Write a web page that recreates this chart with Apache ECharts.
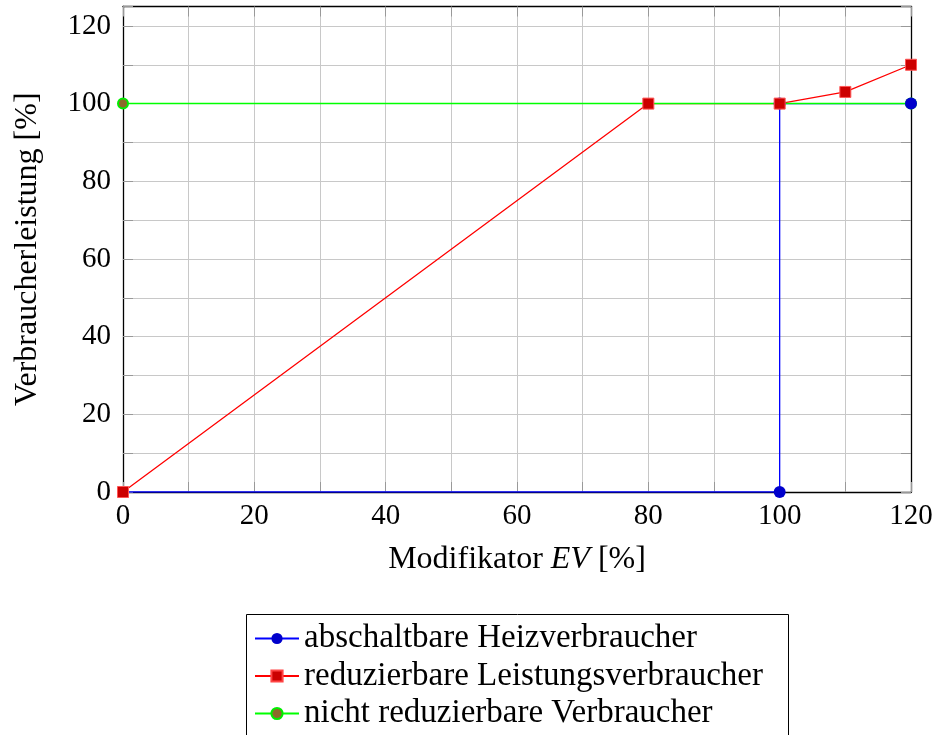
<!DOCTYPE html>
<html>
<head>
<meta charset="utf-8">
<script src="https://cdn.jsdelivr.net/npm/echarts@6/dist/echarts.min.js"></script>
<style>html,body{margin:0;padding:0;background:#fff}#c{width:936px;height:735px}</style>
</head>
<body>
<div id="c"></div>
<script>
var seriesNames = ['abschaltbare Heizverbraucher', 'reduzierbare Leistungsverbraucher', 'nicht reduzierbare Verbraucher'];
var blueX = [0, 100, 100, 120];
var blueY = [0, 0, 100, 100];
var redX = [0, 80, 100, 110, 120];
var redY = [0, 100, 100, 103, 110];
var greenX = [0, 120];
var greenY = [100, 100];
var xTicks = [0, 20, 40, 60, 80, 100, 120];
var yTicks = [0, 20, 40, 60, 80, 100, 120];

function pts(xs, ys) { return xs.map(function (x, i) { return [x, ys[i]]; }); }

var FONT = 'Liberation Serif';
var chart = echarts.init(document.getElementById('c'));
var tickStyle = { show: true, inside: true, length: 10, lineStyle: { color: '#999', width: 1 } };
var gridLine = { show: true, lineStyle: { color: '#c8c8c8', width: 1 } };
var labelStyle = { fontFamily: FONT, fontSize: 29, color: '#000' };

chart.setOption({
  animation: false,
  grid: { left: 123, right: 25, top: 6.5, bottom: 243, containLabel: false, outerBoundsMode: 'none' },
  xAxis: [{
    type: 'value', min: 0, max: 120, interval: 10,
    axisLine: { show: true, onZero: false, lineStyle: { color: '#000', width: 1.3 } },
    axisTick: tickStyle,
    splitLine: gridLine,
    axisLabel: Object.assign({ margin: 10, formatter: function (v) { return xTicks.indexOf(v) >= 0 ? String(v) : ''; } }, labelStyle),
    name: '{n|Modifikator }{i|EV}{n| [%]}', nameLocation: 'middle', nameGap: 52,
    nameTextStyle: { rich: { n: { fontFamily: FONT, fontSize: 32, color: '#000' }, i: { fontFamily: FONT, fontSize: 32, fontStyle: 'italic', color: '#000' } } }
  }, {
    type: 'value', min: 0, max: 120, interval: 10, position: 'top',
    axisLine: { show: true, onZero: false, lineStyle: { color: '#000', width: 1.3 } },
    axisTick: tickStyle, splitLine: { show: false }, axisLabel: { show: false }
  }],
  yAxis: [{
    type: 'value', min: 0, max: 125, interval: 10,
    axisLine: { show: true, onZero: false, lineStyle: { color: '#000', width: 1.3 } },
    axisTick: tickStyle,
    splitLine: gridLine,
    axisLabel: Object.assign({ margin: 12, formatter: function (v) { return yTicks.indexOf(v) >= 0 ? String(v) : ''; } }, labelStyle),
    name: 'Verbraucherleistung [%]', nameLocation: 'middle', nameGap: 79,
    nameTextStyle: { fontFamily: FONT, fontSize: 32, color: '#000' }
  }, {
    type: 'value', min: 0, max: 125, interval: 10, position: 'right',
    axisLine: { show: true, onZero: false, lineStyle: { color: '#000', width: 1.3 } },
    axisTick: tickStyle, splitLine: { show: false }, axisLabel: { show: false }
  }],
  graphic: [{
    type: 'rect', z: 0,
    shape: { x: 246.5, y: 614.5, width: 542, height: 160 },
    style: { fill: 'none', stroke: '#000', lineWidth: 1 }
  }],
  legend: {
    orient: 'vertical', left: 246, top: 614, height: 300,
    data: seriesNames,
    padding: [8, 8, 0, 8], itemGap: 4.5, itemWidth: 44, itemHeight: 14,
    textStyle: { fontFamily: FONT, fontSize: 33, color: '#000', padding: [0, 0, 0, 0] },
    selectedMode: false
  },
  series: [
    { name: seriesNames[0], type: 'line', data: pts(blueX, blueY), symbol: 'circle', showSymbol: false, z: 2,
      lineStyle: { color: '#0000ff', width: 1.3 }, itemStyle: { color: '#0000cc' } },
    { name: seriesNames[1], type: 'line', data: pts(redX, redY), symbol: 'rect', showSymbol: false, z: 2,
      lineStyle: { color: '#ff0000', width: 1.3 }, itemStyle: { color: '#cc0000', borderColor: '#ff4444', borderWidth: 1 } },
    { name: seriesNames[2], type: 'line', data: pts(greenX, greenY), symbol: 'circle', showSymbol: false, z: 2,
      lineStyle: { color: '#00ff00', width: 1.5 }, itemStyle: { color: '#8c6a2a', borderColor: '#00ee00', borderWidth: 2 } },
    { name: 'g_m', type: 'scatter', data: pts(greenX, greenY), symbol: 'circle', symbolSize: 10, z: 3,
      itemStyle: { color: '#8c6a2a', borderColor: '#00ee00', borderWidth: 2, opacity: 1 } },
    { name: 'b_m', type: 'scatter', data: pts(blueX, blueY), symbol: 'circle', symbolSize: 12, z: 4,
      itemStyle: { color: '#0000cc', opacity: 1 } },
    { name: 'r_m', type: 'scatter', data: pts(redX, redY), symbol: 'rect', symbolSize: 11, z: 5,
      itemStyle: { color: '#cc0000', borderColor: '#ff5555', borderWidth: 1, opacity: 1 } }
  ]
});
</script>
</body>
</html>
